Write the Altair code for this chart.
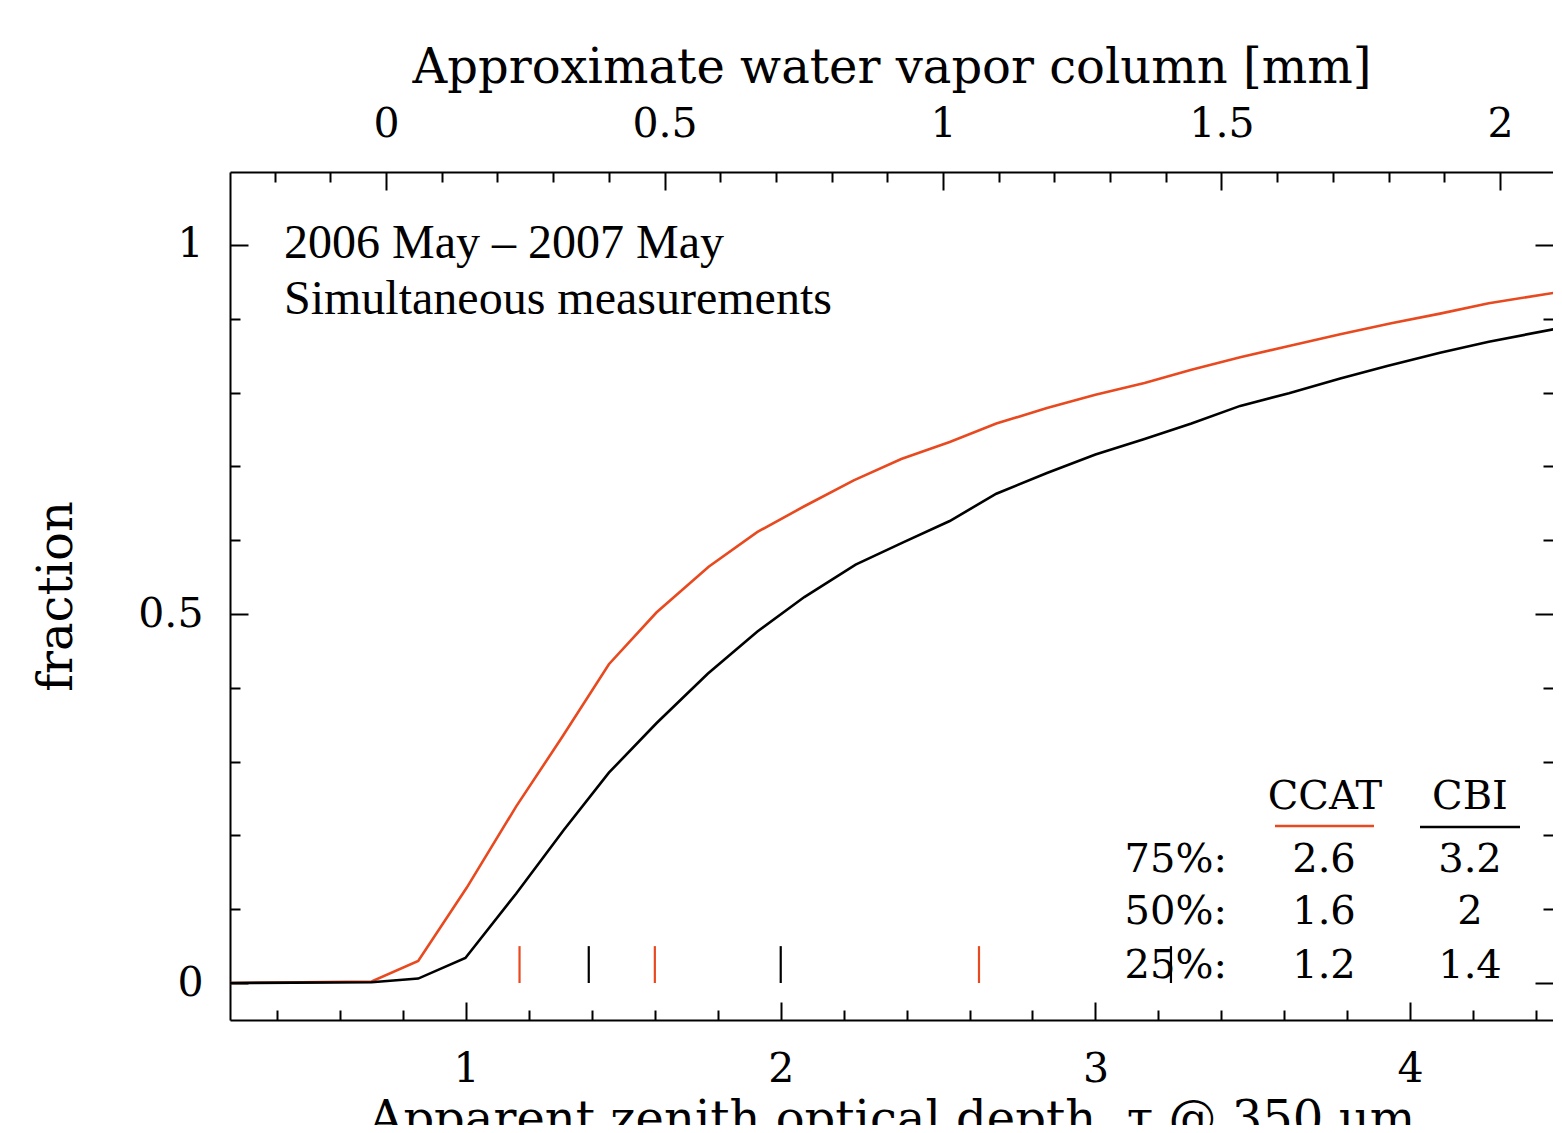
import altair as alt
import pandas as pd

# ---------------- data ----------------
ccat_tau = [0.25, 0.70, 0.848, 1.002, 1.159, 1.305, 1.454, 1.605, 1.771, 1.925, 2.075, 2.232, 2.383,
            2.537, 2.685, 2.846, 3.0, 3.156, 3.305, 3.46, 3.615, 3.778, 3.94, 4.095, 4.25, 4.483]
ccat_frac = [0.0, 0.002, 0.030, 0.129, 0.239, 0.333, 0.432, 0.502, 0.564, 0.611, 0.646, 0.681, 0.710,
             0.733, 0.758, 0.779, 0.797, 0.813, 0.831, 0.848, 0.863, 0.879, 0.894, 0.907, 0.921, 0.937]
cbi_tau = [0.25, 0.70, 0.848, 0.998, 1.159, 1.31, 1.454, 1.605, 1.768, 1.925, 2.075, 2.238, 2.389,
           2.537, 2.685, 2.846, 3.0, 3.156, 3.305, 3.46, 3.615, 3.778, 3.927, 4.095, 4.25, 4.483]
cbi_frac = [0.0, 0.001, 0.006, 0.034, 0.121, 0.207, 0.285, 0.352, 0.419, 0.476, 0.523, 0.567, 0.597,
            0.626, 0.663, 0.691, 0.716, 0.737, 0.758, 0.782, 0.799, 0.819, 0.836, 0.854, 0.869, 0.888]

series_names = ["CCAT", "CBI"]
quart_ccat = [1.17, 1.60, 2.63]
quart_cbi = [1.39, 2.00, 3.24]

tau_major = [1, 2, 3, 4]
tau_minor = [0.4, 0.6, 0.8, 1.2, 1.4, 1.6, 1.8, 2.2, 2.4, 2.6, 2.8, 3.2, 3.4, 3.6, 3.8, 4.2, 4.4]
frac_major = [0, 0.5, 1]
frac_minor = [0.1, 0.2, 0.3, 0.4, 0.6, 0.7, 0.8, 0.9]
mm_major = [0, 0.5, 1, 1.5, 2]
mm_minor = [-0.2, -0.1, 0.1, 0.2, 0.3, 0.4, 0.6, 0.7, 0.8, 0.9, 1.1, 1.2, 1.3, 1.4,
            1.6, 1.7, 1.8, 1.9]

table_rows = ["75%:", "50%:", "25%:"]
table_ccat = ["2.6", "1.6", "1.2"]
table_cbi = ["3.2", "2", "1.4"]

note_lines = ["2006 May \u2013 2007 May", "Simultaneous measurements"]
x_title = "Apparent zenith optical depth, \u03c4 @ 350 \u03bcm"
top_title = "Approximate water vapor column [mm]"
y_title = "fraction"

# ---------------- styling / layout ----------------
ORANGE = "#e8491f"
FONT = "DejaVu Serif"
W, H = 1323, 848
TAU_DOMAIN = [0.25, 4.454]
FRAC_DOMAIN = [-0.0501, 1.0989]
MM_DOMAIN = [-0.2801, 2.0952]

tau_scale = alt.Scale(domain=TAU_DOMAIN, nice=False, zero=False)
frac_scale = alt.Scale(domain=FRAC_DOMAIN, nice=False, zero=False)
mm_scale = alt.Scale(domain=MM_DOMAIN, nice=False, zero=False)
color_scale = alt.Scale(domain=series_names, range=[ORANGE, "black"])


def ax(orient, values, size, labels=False, domain=False, title="", pad=50, tsize=48, **kw):
    d = dict(orient=orient, values=values, tickSize={"expr": str(-size)}, tickColor="black",
             tickWidth=2, grid=False, labels=labels, domain=domain, domainColor="black",
             domainWidth=2, ticks=True, title=title)
    if labels:
        d.update(labelFont=FONT, labelFontSize=41, labelColor="black", labelPadding=pad,
                 labelFlush=False, labelOverlap=False, format="~g")
    if title:
        d.update(titleFont=FONT, titleFontSize=tsize, titleFontWeight="normal", titleColor="black")
    d.update(kw)
    return alt.Axis(**d)


curve_df = pd.DataFrame({
    "tau": ccat_tau + cbi_tau,
    "frac": ccat_frac + cbi_frac,
    "series": [series_names[0]] * len(ccat_tau) + [series_names[1]] * len(cbi_tau),
})

lines = alt.Chart(curve_df).mark_line(strokeWidth=2.6, clip=True).encode(
    x=alt.X("tau:Q", scale=tau_scale,
            axis=ax("bottom", tau_major, 18, labels=True, domain=True, title=x_title, pad=47,
                    tsize=48, titleY=76, titleBaseline="top")),
    y=alt.Y("frac:Q", scale=frac_scale,
            axis=ax("left", frac_major, 18, labels=True, domain=True, title=y_title, pad=45,
                    titleX=-173, titleBaseline="middle")),
    color=alt.Color("series:N", scale=color_scale, legend=None),
)

marker_df = pd.DataFrame({
    "tau": quart_ccat + quart_cbi,
    "series": [series_names[0]] * len(quart_ccat) + [series_names[1]] * len(quart_cbi),
})
markers = alt.Chart(marker_df).mark_rule(strokeWidth=2.2).encode(
    x=alt.X("tau:Q", scale=tau_scale, axis=None),
    y=alt.YDatum(0, scale=frac_scale, axis=None),
    y2=alt.Y2Datum(0.05),
    color=alt.Color("series:N", scale=color_scale, legend=None),
)

bottom_minor = alt.Chart(pd.DataFrame({"v": tau_minor})).mark_rule(opacity=0).encode(
    x=alt.X("v:Q", scale=tau_scale, axis=ax("bottom", tau_minor, 10)))
left_minor = alt.Chart(pd.DataFrame({"v": frac_minor})).mark_rule(opacity=0).encode(
    y=alt.Y("v:Q", scale=frac_scale, axis=ax("left", frac_minor, 10)))
right_major = alt.Chart(pd.DataFrame({"v": frac_major})).mark_rule(opacity=0).encode(
    y=alt.Y("v:Q", scale=frac_scale, axis=ax("right", frac_major, 18)))
right_minor = alt.Chart(pd.DataFrame({"v": frac_minor})).mark_rule(opacity=0).encode(
    y=alt.Y("v:Q", scale=frac_scale, axis=ax("right", frac_minor, 10)))
top_major = alt.Chart(pd.DataFrame({"v": mm_major})).mark_rule(opacity=0).encode(
    x=alt.X("v:Q", scale=mm_scale,
            axis=ax("top", mm_major, 18, labels=True, domain=True, title=top_title, pad=45,
                    titleY=-104, titleBaseline="middle")))
top_minor = alt.Chart(pd.DataFrame({"v": mm_minor})).mark_rule(opacity=0).encode(
    x=alt.X("v:Q", scale=mm_scale, axis=ax("top", mm_minor, 10)))


def txt(s, x, y, font=FONT, size=40, align="left", baseline="middle"):
    return alt.Chart(pd.DataFrame({"t": [s]})).mark_text(
        font=font, fontSize=size, align=align, baseline=baseline, color="black"
    ).encode(x=alt.value(x), y=alt.value(y), text="t:N")


texts = [
    txt(note_lines[0], 54, 86, font="Liberation Serif", size=48, baseline="alphabetic"),
    txt(note_lines[1], 54, 142, font="Liberation Serif", size=48, baseline="alphabetic"),
    txt(series_names[0], 1095, 625, align="center"),
    txt(series_names[1], 1240, 625, align="center"),
]
row_y = [688, 740, 794]
for i in range(3):
    texts.append(txt(table_rows[i], 997, row_y[i], align="right"))
    texts.append(txt(table_ccat[i], 1094, row_y[i], align="center"))
    texts.append(txt(table_cbi[i], 1240, row_y[i], align="center"))

underlines = [
    alt.Chart(pd.DataFrame({"s": [series_names[0]]})).mark_rule(color=ORANGE, strokeWidth=2.5).encode(
        x=alt.value(1045), x2=alt.value(1144), y=alt.value(654)),
    alt.Chart(pd.DataFrame({"s": [series_names[1]]})).mark_rule(color="black", strokeWidth=2.5).encode(
        x=alt.value(1190), x2=alt.value(1290), y=alt.value(655)),
]

chart = alt.layer(
    lines, markers, bottom_minor, left_minor, right_major, right_minor, top_major, top_minor,
    *texts, *underlines
).resolve_scale(x="independent").resolve_axis(x="independent", y="independent").properties(
    width=W, height=H,
    padding={"left": 222, "top": 164, "right": 0, "bottom": 105},
    autosize=alt.AutoSizeParams(type="none"),
    background="white",
).configure_view(stroke=None)

chart.save("out.html", embed_options={"renderer": "svg", "actions": False})
